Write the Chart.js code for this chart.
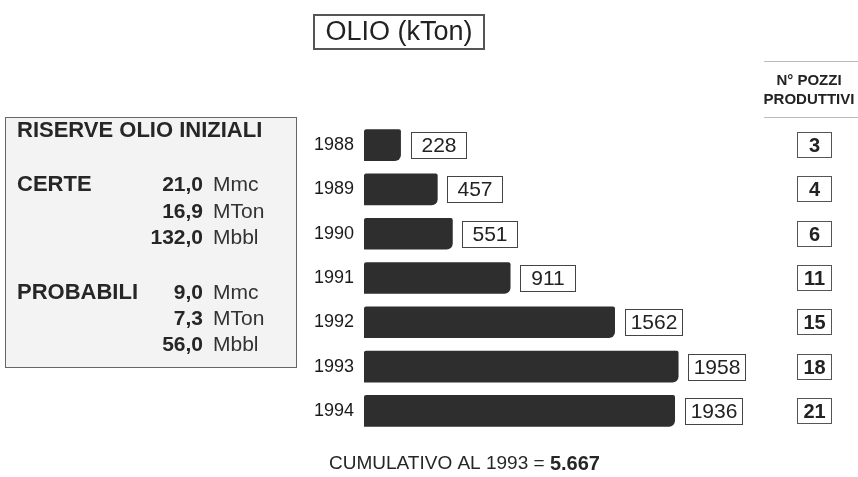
<!DOCTYPE html>
<html>
<head>
<meta charset="utf-8">
<script src="https://cdn.jsdelivr.net/npm/chart.js@4"></script>
<style>
  html, body { margin: 0; padding: 0; background: #fff; }
  #wrap { width: 858px; height: 477px; position: relative; }
</style>
</head>
<body>
<div id="wrap"><canvas id="chart" width="858" height="477"></canvas></div>
<script>
const years = ["1988", "1989", "1990", "1991", "1992", "1993", "1994"];
const oilKton = [228, 457, 551, 911, 1562, 1958, 1936];
const wells = [3, 4, 6, 11, 15, 18, 21];

const reserveRows = [
  ["RISERVE OLIO INIZIALI", "", ""],
  ["CERTE", "21,0", "Mmc"],
  ["", "16,9", "MTon"],
  ["", "132,0", "Mbbl"],
  ["PROBABILI", "9,0", "Mmc"],
  ["", "7,3", "MTon"],
  ["", "56,0", "Mbbl"],
];

const FONT = "'Liberation Sans', Arial, sans-serif";

// draws everything around the bars
const extras = {
  id: "extras",
  afterDraw(c) {
    const ctx = c.ctx;
    const x = c.scales.x;
    const y = c.scales.y;
    ctx.save();
    ctx.textBaseline = "middle";

    // title box
    ctx.strokeStyle = "#555";
    ctx.lineWidth = 2;
    ctx.strokeRect(314, 15, 170, 34);
    ctx.fillStyle = "#222";
    ctx.font = "27px " + FONT;
    ctx.textAlign = "center";
    ctx.fillText("OLIO (kTon)", 399, 33);

    // reserves box
    ctx.fillStyle = "#f3f3f3";
    ctx.fillRect(5, 117, 291, 250);
    ctx.strokeStyle = "#666";
    ctx.lineWidth = 1;
    ctx.strokeRect(5.5, 117.5, 291, 250);
    const rowY = [131, 185, 212, 238, 293, 319, 345];
    reserveRows.forEach((r, i) => {
      ctx.fillStyle = "#262626";
      ctx.textAlign = "left";
      ctx.font = "bold 22px " + FONT;
      if (r[0]) ctx.fillText(r[0], 17, rowY[i]);
      ctx.textAlign = "right";
      ctx.font = "bold 21px " + FONT;
      if (r[1]) ctx.fillText(r[1], 203, rowY[i]);
      ctx.fillStyle = "#333";
      ctx.textAlign = "left";
      ctx.font = "21px " + FONT;
      if (r[2]) ctx.fillText(r[2], 213, rowY[i]);
    });

    // value boxes
    ctx.font = "21px " + FONT;
    ctx.lineWidth = 1;
    ctx.strokeStyle = "#444";
    oilKton.forEach((v, i) => {
      const px = Math.round(x.getPixelForValue(v) + 10);
      const py = Math.round(y.getPixelForValue(i));
      const t = String(v);
      const w = Math.max(55, Math.round(ctx.measureText(t).width + 10));
      ctx.fillStyle = "#fff";
      ctx.fillRect(px, py - 13, w, 26);
      ctx.strokeRect(px + 0.5, py - 12.5, w, 26);
      ctx.fillStyle = "#222";
      ctx.textAlign = "center";
      ctx.fillText(t, px + w / 2 + 0.5, py + 1);
    });

    // wells column
    ctx.strokeStyle = "#bbb";
    ctx.beginPath();
    ctx.moveTo(764, 61.5); ctx.lineTo(858, 61.5);
    ctx.moveTo(764, 117.5); ctx.lineTo(858, 117.5);
    ctx.stroke();
    ctx.fillStyle = "#222";
    ctx.font = "bold 15px " + FONT;
    ctx.textAlign = "center";
    ctx.fillText("N° POZZI", 809, 81);
    ctx.fillText("PRODUTTIVI", 809, 100);
    ctx.font = "bold 20px " + FONT;
    ctx.strokeStyle = "#555";
    wells.forEach((n, i) => {
      const py = Math.round(y.getPixelForValue(i));
      ctx.strokeRect(797.5, py - 12.5, 34, 25);
      ctx.fillText(String(n), 814.5, py + 1);
    });

    // footer
    ctx.textAlign = "left";
    ctx.fillStyle = "#262626";
    ctx.font = "19px " + FONT;
    const a = "CUMULATIVO AL 1993 = ";
    const aw = ctx.measureText(a).width;
    ctx.fillText(a, 329, 464);
    ctx.font = "bold 20px " + FONT;
    ctx.fillText("5.667", 329 + aw, 464);

    ctx.restore();
  },
};

new Chart(document.getElementById("chart"), {
  type: "bar",
  data: {
    labels: years,
    datasets: [
      {
        label: "OLIO (kTon)",
        data: oilKton,
        backgroundColor: "#2e2e2e",
        borderWidth: 0,
        borderRadius: { topLeft: 3, bottomLeft: 1, topRight: 2, bottomRight: 6 },
        borderSkipped: false,
        barThickness: 31,
      },
    ],
  },
  options: {
    indexAxis: "y",
    responsive: false,
    animation: false,
    layout: { padding: { left: 300, right: 157, top: 123, bottom: 44 } },
    plugins: {
      legend: { display: false },
      tooltip: { enabled: false },
    },
    scales: {
      x: { display: false, min: 0, max: 2100 },
      y: {
        grid: { display: false, drawTicks: false },
        border: { display: false },
        afterFit: (s) => { s.width = 64; },
        ticks: {
          color: "#1a1a1a",
          padding: 10,
          font: { family: FONT, size: 18 },
        },
      },
    },
  },
  plugins: [extras],
});
</script>
</body>
</html>
